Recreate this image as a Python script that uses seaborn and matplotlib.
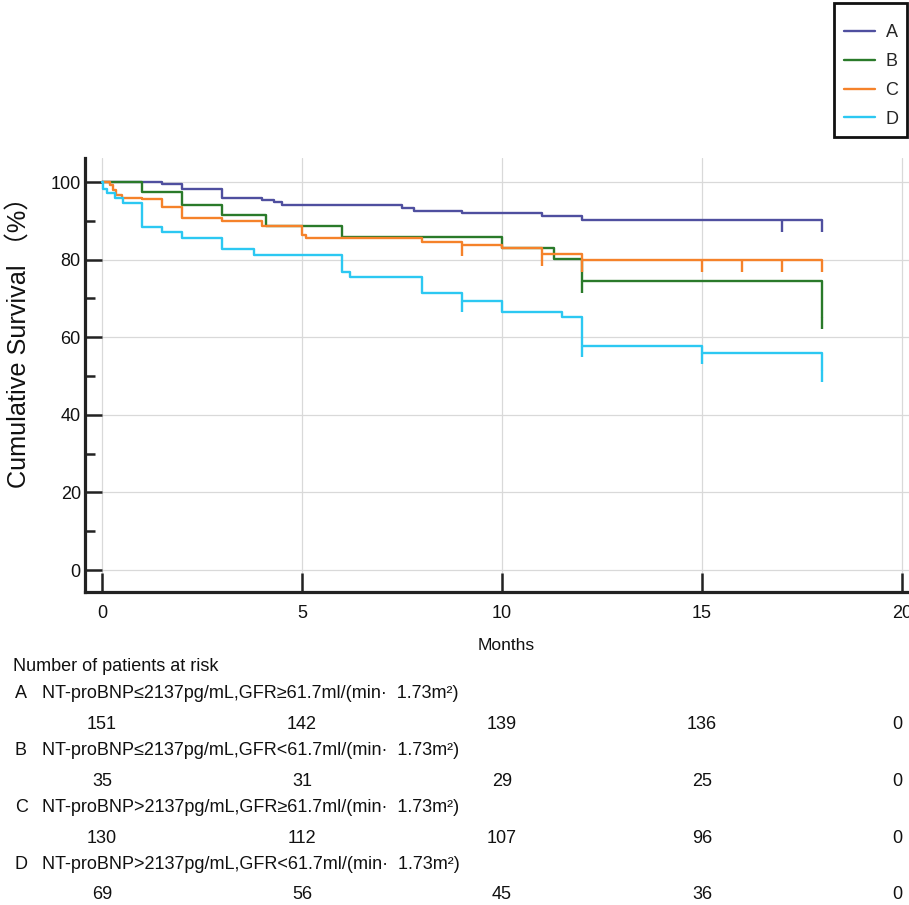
import numpy as np
import pandas as pd
import matplotlib
matplotlib.use("Agg")
import matplotlib.pyplot as plt
import seaborn as sns
from matplotlib.lines import Line2D
from matplotlib.patches import Rectangle
from matplotlib.transforms import blended_transform_factory

sns.set_theme(style="white")
FONT = ["Liberation Sans", "DejaVu Sans"]
plt.rcParams["font.family"] = FONT

# ---------------- data ----------------
groups = ["A", "B", "C", "D"]
colors = ["#4f4f9f", "#2a7a2a", "#f5822a", "#2cc8f2"]

A_time = [0, 1.5, 2, 3, 4, 4.3, 4.5, 7.5, 7.8, 9, 11, 12, 18]
A_surv = [100, 99.4, 98.2, 95.8, 95.3, 94.8, 94.1, 93.4, 92.6, 92.1, 91.3, 90.2, 90.2]
A_cens = [17, 18]

B_time = [0, 1, 2, 3, 4.1, 6, 10, 11.3, 12, 18]
B_surv = [100, 97.5, 94.2, 91.5, 88.6, 85.9, 82.9, 80.1, 74.4, 65.2]
B_cens = [12, 18]

C_time = [0, 0.2, 0.27, 0.36, 0.5, 1, 1.5, 2, 3, 4, 5, 5.1, 8, 9, 10, 11, 12, 18]
C_surv = [100, 99.2, 97.9, 96.6, 95.9, 95.6, 93.6, 90.8, 89.9, 88.6, 86.3, 85.5,
          84.6, 83.9, 82.9, 81.4, 79.9, 79.9]
C_cens = [9, 11, 12, 15, 16, 17, 18]

D_time = [0, 0.03, 0.12, 0.32, 0.53, 1, 1.5, 2, 3, 3.8, 6, 6.2, 8, 9, 10, 11.5, 12, 15, 18]
D_surv = [100, 98.3, 97.1, 95.9, 94.5, 88.5, 87.2, 85.6, 82.7, 81.3, 76.7, 75.6,
          71.3, 69.4, 66.5, 65.2, 57.8, 56.0, 51.5]
D_cens = [9, 12, 15, 18]

risk_times = [0, 5, 10, 15, 20]
risk_A = [151, 142, 139, 136, 0]
risk_B = [35, 31, 29, 25, 0]
risk_C = [130, 112, 107, 96, 0]
risk_D = [69, 56, 45, 36, 0]

group_labels = [
    "NT-proBNP≤2137pg/mL,GFR≥61.7ml/(min·  1.73m²)",
    "NT-proBNP≤2137pg/mL,GFR<61.7ml/(min·  1.73m²)",
    "NT-proBNP>2137pg/mL,GFR≥61.7ml/(min·  1.73m²)",
    "NT-proBNP>2137pg/mL,GFR<61.7ml/(min·  1.73m²)",
]

times = [A_time, B_time, C_time, D_time]
survs = [A_surv, B_surv, C_surv, D_surv]
censs = [A_cens, B_cens, C_cens, D_cens]
risks = [risk_A, risk_B, risk_C, risk_D]

rows = []
for g, t, s in zip(groups, times, survs):
    for ti, si in zip(t, s):
        rows.append({"group": g, "time": ti, "surv": si})
df = pd.DataFrame(rows)
palette = dict(zip(groups, colors))

# ---------------- figure ----------------
W, H = 909, 905
fig = plt.figure(figsize=(W / 100, H / 100), dpi=100)
fig.patch.set_facecolor("white")
ax = fig.add_axes([85 / W, (H - 592) / H, (W - 85) / W, (592 - 158) / H])
ax.set_facecolor("white")

sns.lineplot(data=df, x="time", y="surv", hue="group", palette=palette,
             estimator=None, sort=True, drawstyle="steps-post", lw=1.7,
             legend=False, ax=ax, zorder=3)

for g, t, s, c in zip(groups, times, survs, censs):
    t = np.asarray(t, float)
    s = np.asarray(s, float)
    idx = np.searchsorted(t, c, side="right") - 1
    sv = s[idx]
    ax.vlines(c, sv - 3.0, sv, colors=palette[g], lw=1.7, zorder=3)

ax.set_xlim(-0.425, 20.175)
ax.set_ylim(-5.67, 106.2)
ax.set_xticks(risk_times)
ax.set_yticks([0, 20, 40, 60, 80, 100])
ax.set_yticks([10, 30, 50, 70, 90], minor=True)
ax.grid(True, which="major", color="#d9d9d9", lw=0.9)
ax.set_axisbelow(True)
ax.set_xlabel("")
ax.set_ylabel("")

for sp in ["top", "right"]:
    ax.spines[sp].set_visible(False)
for sp in ["left", "bottom"]:
    ax.spines[sp].set_linewidth(2.3)
    ax.spines[sp].set_color("#222222")

ax.tick_params(axis="both", which="both", direction="in", color="#222222",
               width=1.8, labelsize=13, labelcolor="#111111")
ax.tick_params(axis="y", which="major", length=12, pad=3, left=True)
ax.tick_params(axis="y", which="minor", length=7, left=True)
ax.tick_params(axis="x", which="major", length=14, pad=9, bottom=True)

fig.text(20 / W, 1 - 336 / H, "Cumulative Survival （%）", rotation=90,
         ha="center", va="center", fontsize=18.2, color="#111111",
         family=["Liberation Sans", "Noto Sans CJK SC", "DejaVu Sans"])
fig.text(506 / W, 1 - 646 / H, "Months", ha="center", va="center",
         fontsize=12.5, color="#111111")

# legend (frame drawn separately for exact padding)
handles = [Line2D([0], [0], color=palette[g], lw=1.7) for g in groups]
leg = fig.legend(handles, groups, loc="upper left",
                 bbox_to_anchor=(844 / W, 1 - 24 / H), fontsize=13,
                 frameon=False, handlelength=1.7, handletextpad=0.6,
                 labelspacing=0.66, borderpad=0, borderaxespad=0)
fig.patches.append(Rectangle((834 / W, 1 - 137 / H), 73 / W, 134 / H,
                             transform=fig.transFigure, fill=False,
                             edgecolor="#111111", lw=2.0))

# number at risk table
fig.text(13 / W, 1 - 666 / H, "Number of patients at risk", ha="left",
         va="center", fontsize=13, color="#111111")
label_y = [693, 750, 807, 864]
num_y = [724, 781, 838, 894]
trans = blended_transform_factory(ax.transData, fig.transFigure)
for g, lab, ly, ny, r in zip(groups, group_labels, label_y, num_y, risks):
    fig.text(15 / W, 1 - ly / H, g, ha="left", va="center", fontsize=13,
             color="#111111")
    fig.text(42 / W, 1 - ly / H, lab, ha="left", va="center", fontsize=13,
             color="#111111")
    for tx, n in zip(risk_times, r):
        xx = tx if tx < 20 else 19.88
        ax.text(xx, 1 - ny / H, str(n), transform=trans, ha="center",
                va="center", fontsize=13, color="#111111", clip_on=False)

fig.savefig("out.png", dpi=100)
